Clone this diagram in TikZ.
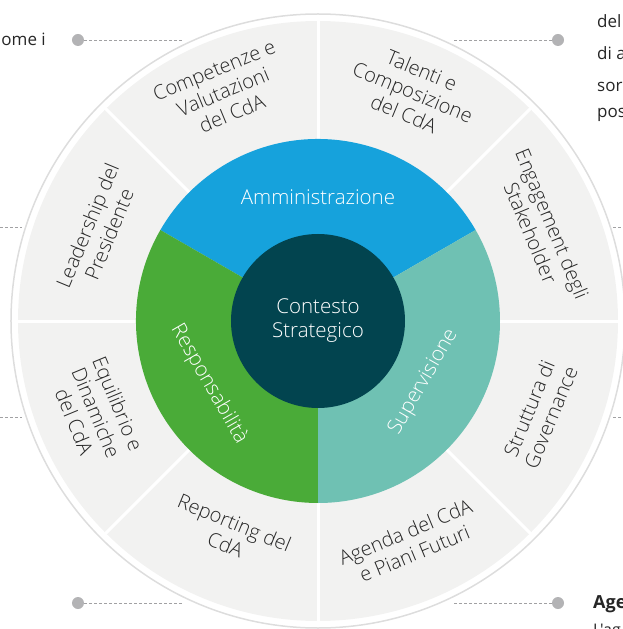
\documentclass[tikz,border=0pt]{standalone}
\usepackage{fontspec}
\IfFontExistsTF{Open Sans Light}
  {\setmainfont{Open Sans Light}[BoldFont={Open Sans Bold}]}
  {\setmainfont{Open Sans}}
\newfontfamily\bodyfont{Open Sans}

\definecolor{ammblue}{HTML}{16A2DC}
\definecolor{respgreen}{HTML}{4AAB38}
\definecolor{supteal}{HTML}{6FC1B3}
\definecolor{ctxdark}{HTML}{02444F}
\definecolor{seggray}{HTML}{F2F2F1}
\definecolor{rimgray}{HTML}{DDDDDD}
\definecolor{dotgray}{HTML}{B3B3B5}

\tikzset{
  seglabel/.style={align=center, text=black!85, font=\fontsize{20}{23.5}\selectfont},
  ringlabel/.style={align=center, text=white, font=\fontsize{20.5}{24}\selectfont},
  divider/.style={white, line width=3pt},
  leader/.style={dotgray!90!black, line width=0.8pt, dash pattern=on 3pt off 2pt},
  dot/.style={circle, fill=dotgray, inner sep=0pt, minimum size=12pt},
  sidetext/.style={text=black!85, font=\bodyfont\fontsize{17}{20}\selectfont}
}

\begin{document}
\begin{tikzpicture}[x=1pt, y=1pt]
  \clip (-318,-308) rectangle (305,321);

  % outer rim and grey segments
  \draw[rimgray, line width=1.5pt] (0,0) circle (307);
  \fill[seggray] (0,0) circle (300);
  \foreach \a in {0,45,...,315}
    \draw[divider] (0,0) -- (\a:301);

  % three inner sectors
  \fill[ammblue] (0,0) -- (30:182) arc[start angle=30, end angle=150, radius=182] -- cycle;
  \fill[respgreen] (0,0) -- (150:182) arc[start angle=150, end angle=270, radius=182] -- cycle;
  \fill[supteal] (0,0) -- (270:182) arc[start angle=270, end angle=390, radius=182] -- cycle;
  \fill[ctxdark] (0,0) circle (87);

  \node[ringlabel] (contesto) at (0,0) {Contesto\\Strategico};
  \node[ringlabel] (amm) at (90:124) {Amministrazione};
  \node[ringlabel, rotate=-60] (resp) at (210:126) {Responsabilità};
  \node[ringlabel, rotate=60] (superv) at (330:122) {Supervisione};

  % outer segment labels
  \node[seglabel, rotate=-67.5] (stakeholder) at (22.5:242) {Engagement degli\\Stakeholder};
  \node[seglabel, rotate=-22.5] (talenti) at (67.5:248) {Talenti e\\Composizione\\del CdA};
  \node[seglabel, rotate=22.5] (competenze) at (112.5:248) {Competenze e\\Valutazioni\\del CdA};
  \node[seglabel, rotate=67.5] (leadership) at (157.5:238) {Leadership del\\Presidente};
  \node[seglabel, rotate=-67.5] (equilibrio) at (202.5:240) {Equilibrio e\\Dinamiche\\del CdA};
  \node[seglabel, rotate=-22.5] (reporting) at (247.5:230) {Reporting del\\CdA};
  \node[seglabel, rotate=22.5] (agenda) at (292.5:240) {Agenda del CdA\\e Piani Futuri};
  \node[seglabel, rotate=67.5] (struttura) at (337.5:240) {Struttura di\\Governance};

  % leader lines
  \node[dot] (dotTL) at (-240,281) {};
  \node[dot] (dotTR) at (240,281) {};
  \node[dot] (dotBL) at (-240,-282) {};
  \node[dot] (dotBR) at (240,-282) {};
  \coordinate (endTL) at (-135,281);
  \coordinate (endTR) at (135,281);
  \coordinate (endBL) at (-135,-282);
  \coordinate (endBR) at (135,-282);
  \draw[leader] (dotTL) -- (endTL);
  \draw[leader] (dotTR) -- (endTR);
  \draw[leader] (dotBL) -- (endBL);
  \draw[leader] (dotBR) -- (endBR);
  \coordinate (l1a) at (-318,94);
  \coordinate (l1b) at (-296,94);
  \coordinate (l2a) at (-318,-96);
  \coordinate (l2b) at (-296,-96);
  \coordinate (r1a) at (295,94);
  \coordinate (r1b) at (305,94);
  \coordinate (r2a) at (295,-96);
  \coordinate (r2b) at (305,-96);
  \draw[leader] (l1a) -- (l1b);
  \draw[leader] (l2a) -- (l2b);
  \draw[leader] (r1a) -- (r1b);
  \draw[leader] (r2a) -- (r2b);

  % text running in from the sides
  \node[sidetext, anchor=base east, inner sep=0pt] (txtTL) at (-272,275) {ome i};
  \node[sidetext, anchor=base west, inner sep=0pt] (txtR1) at (279,293) {del};
  \node[sidetext, anchor=base west, inner sep=0pt] (txtR2) at (279,261) {di a};
  \node[sidetext, anchor=base west, inner sep=0pt] (txtR3) at (279,229) {sor};
  \node[sidetext, anchor=base west, inner sep=0pt] (txtR4) at (279,203) {pos};
  \node[sidetext, anchor=base west, inner sep=0pt, font=\bodyfont\bfseries\fontsize{18}{20}\selectfont] (txtAge) at (275,-287) {Age};
  \node[sidetext, anchor=base west, inner sep=0pt, font=\bodyfont\fontsize{16}{20}\selectfont] (txtLag) at (275,-314) {L'ag};
\end{tikzpicture}
\end{document}
